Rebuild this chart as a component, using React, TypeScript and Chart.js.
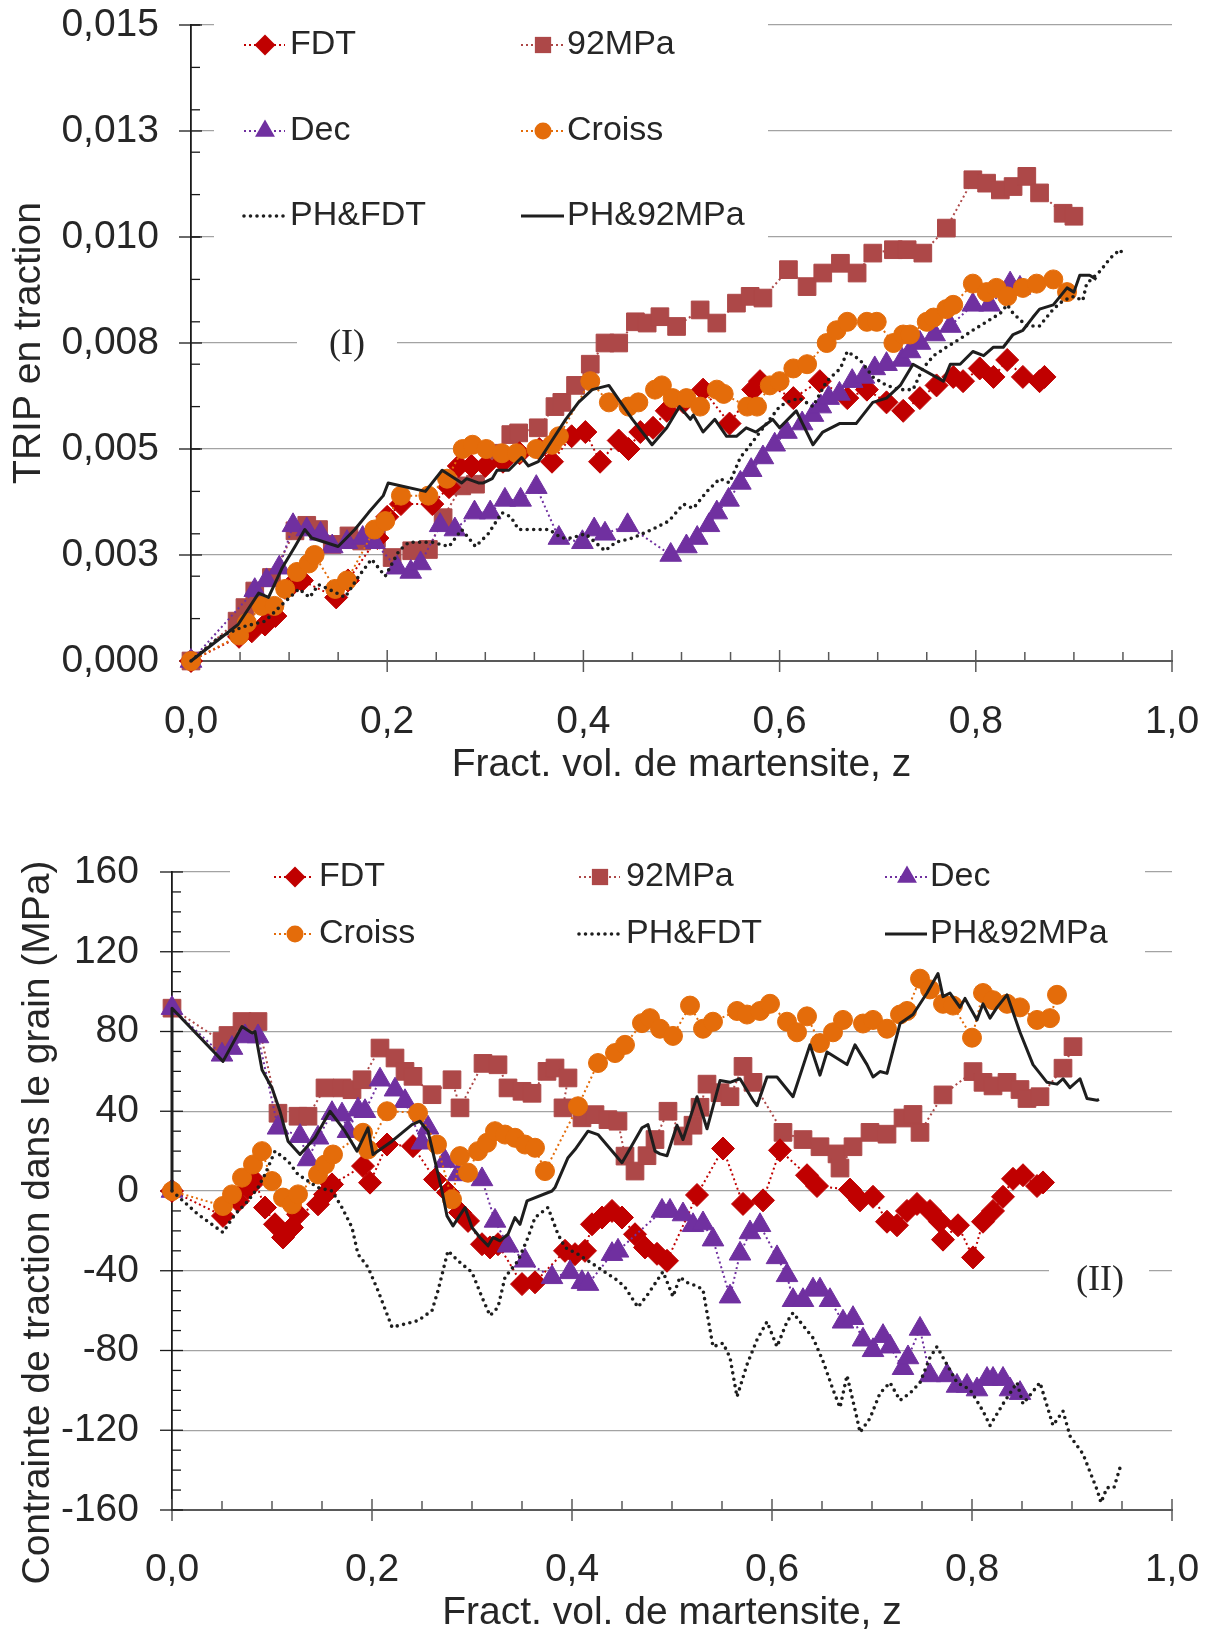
import React, { useEffect, useRef } from 'react';
import { Chart, registerables } from 'chart.js';

Chart.register(...registerables);

type P = [number, number];

// ---------------- data ----------------
const seriesLabels = ['FDT', '92MPa', 'Dec', 'Croiss', 'PH&FDT', 'PH&92MPa'];

// Panel (I): TRIP en traction
const topFDT: P[] = [[0,0],[.049,.00057],[.062,.0007],[.0755,.00086],[.086,.00106],[.103,.0018],[.113,.0019],[.148,.0015],[.16,.0019],[.19,.0029],[.2,.0034],[.214,.0037],[.246,.0037],[.263,.0041],[.273,.0046],[.286,.0046],[.3,.0046],[.318,.0047],[.335,.0049],[.355,.005],[.368,.0047],[.388,.0053],[.402,.0054],[.417,.0047],[.436,.0052],[.446,.005],[.458,.0054],[.471,.0055],[.485,.0059],[.502,.0061],[.522,.0064],[.549,.0056],[.573,.0064],[.58,.0066],[.614,.0062],[.641,.0066],[.669,.0062],[.689,.0064],[.709,.0061],[.726,.0059],[.743,.0062],[.76,.0065],[.777,.0067],[.787,.0066],[.804,.0069],[.818,.0067],[.832,.0071],[.848,.0067],[.865,.0066],[.87,.0067]];
const top92MPa: P[] = [[0,0],[.047,.00094],[.055,.00126],[.065,.00165],[.082,.00197],[.106,.00307],[.118,.0032],[.13,.0031],[.144,.00275],[.161,.00295],[.174,.00283],[.189,.0029],[.205,.00244],[.225,.0026],[.242,.00263],[.257,.00338],[.276,.00413],[.29,.00417],[.31,.0049],[.326,.00534],[.334,.00538],[.354,.0055],[.371,.006],[.378,.0061],[.392,.0065],[.407,.007],[.422,.0075],[.436,.0075],[.453,.008],[.465,.00797],[.478,.00812],[.495,.00789],[.519,.00828],[.536,.00797],[.556,.00844],[.57,.0086],[.583,.00856],[.609,.00923],[.628,.00883],[.644,.00915],[.662,.00938],[.679,.00915],[.695,.00962],[.716,.0097],[.73,.0097],[.746,.00962],[.77,.01021],[.797,.01135],[.811,.01127],[.825,.01111],[.838,.01119],[.852,.01143],[.865,.01104],[.889,.01056],[.9,.01049]];
const topDec: P[] = [[0,0],[.065,.00167],[.077,.0019],[.09,.0022],[.104,.0032],[.118,.0031],[.132,.003],[.144,.0027],[.159,.0028],[.175,.0029],[.187,.0028],[.21,.0022],[.224,.0021],[.234,.0023],[.254,.0032],[.269,.0031],[.289,.0035],[.305,.0035],[.32,.0038],[.336,.0038],[.352,.0041],[.375,.0029],[.399,.0028],[.411,.0031],[.422,.003],[.445,.0032],[.489,.0025],[.505,.0027],[.516,.0029],[.528,.0032],[.536,.0035],[.548,.0038],[.56,.0042],[.571,.0045],[.583,.0048],[.595,.0051],[.607,.0054],[.623,.0056],[.634,.0058],[.642,.006],[.65,.0062],[.661,.0063],[.674,.0066],[.686,.0067],[.697,.0069],[.709,.007],[.725,.0071],[.733,.0073],[.743,.0075],[.758,.0077],[.774,.0079],[.797,.0084],[.814,.0084],[.835,.0089],[.845,.0088]];
const topCroiss: P[] = [[0,0],[.049,.0006],[.057,.0009],[.072,.0013],[.085,.0013],[.096,.0017],[.108,.0021],[.12,.0023],[.126,.0025],[.147,.0017],[.159,.0019],[.187,.0031],[.198,.0033],[.214,.0039],[.242,.0039],[.261,.0043],[.277,.005],[.287,.0051],[.301,.005],[.317,.0049],[.332,.0049],[.352,.005],[.368,.0051],[.375,.0053],[.407,.0066],[.426,.0061],[.446,.006],[.456,.0061],[.473,.0064],[.48,.0065],[.491,.0062],[.505,.0062],[.519,.006],[.536,.0064],[.543,.0063],[.567,.006],[.577,.006],[.59,.0065],[.6,.0066],[.614,.0069],[.628,.007],[.648,.0075],[.658,.0078],[.669,.008],[.689,.008],[.699,.008],[.716,.0075],[.726,.0077],[.733,.0077],[.75,.008],[.757,.0081],[.77,.0083],[.777,.0084],[.797,.0089],[.811,.0087],[.821,.0088],[.832,.0086],[.848,.0088],[.862,.0089],[.879,.009],[.893,.0087]];
const topPHFDT: P[] = [[0,0],[.028,.00055],[.052,.0008],[.0755,.00094],[.096,.0014],[.11,.0017],[.121,.0015],[.13,.0018],[.14,.0017],[.157,.0015],[.171,.002],[.184,.0024],[.198,.002],[.212,.0026],[.222,.0028],[.232,.0028],[.246,.0028],[.263,.0027],[.276,.0031],[.29,.0027],[.303,.003],[.317,.0035],[.326,.0034],[.334,.0031],[.351,.0031],[.365,.0031],[.378,.0029],[.388,.0029],[.402,.003],[.422,.0026],[.433,.0028],[.45,.0029],[.47,.0031],[.487,.0033],[.502,.0037],[.512,.0036],[.526,.004],[.539,.0043],[.549,.0042],[.56,.0048],[.567,.005],[.58,.0054],[.6,.006],[.607,.0061],[.62,.0062],[.634,.006],[.648,.0066],[.662,.0069],[.669,.0073],[.682,.0071],[.695,.0067],[.709,.0065],[.723,.0064],[.736,.0064],[.746,.0069],[.757,.0072],[.77,.0074],[.784,.0076],[.797,.0078],[.811,.008],[.825,.0082],[.832,.0084],[.838,.0082],[.852,.0079],[.865,.0079],[.879,.0083],[.889,.0085],[.9,.0086],[.909,.0085],[.913,.0089],[.927,.0092],[.937,.0095],[.947,.0097],[.95,.0096]];
const topPH92MPa: P[] = [[0,0],[.048,.00086],[.069,.0016],[.079,.0015],[.093,.0022],[.106,.0027],[.116,.0031],[.123,.0029],[.15,.0027],[.167,.0031],[.181,.0035],[.196,.0039],[.201,.0042],[.239,.004],[.256,.0045],[.276,.0042],[.281,.0043],[.293,.0042],[.298,.0042],[.307,.0043],[.312,.0045],[.324,.0045],[.337,.0048],[.344,.0046],[.354,.0047],[.368,.0052],[.382,.0057],[.395,.0061],[.409,.0064],[.426,.0065],[.45,.0057],[.47,.0051],[.485,.0055],[.498,.006],[.509,.0057],[.512,.0058],[.522,.0054],[.534,.0057],[.546,.0053],[.556,.0053],[.566,.0055],[.576,.0054],[.593,.0057],[.6,.0055],[.617,.0059],[.634,.0051],[.644,.0054],[.661,.0056],[.678,.0056],[.695,.0061],[.709,.0062],[.723,.0065],[.736,.007],[.767,.0066],[.774,.007],[.784,.007],[.797,.0073],[.808,.0072],[.818,.0074],[.828,.0074],[.838,.0077],[.848,.0078],[.858,.0081],[.865,.0083],[.879,.0084],[.886,.0086],[.893,.0088],[.9,.0087],[.906,.0091],[.916,.0091],[.923,.009]];

// Panel (II): Contrainte de traction dans le grain (MPa)
const botFDT: P[] = [[0,0],[.051,-12.5],[.066,-5],[.076,1.7],[.083,5],[.093,-8.3],[.103,-16.7],[.111,-23.3],[.12,-18.3],[.126,-11.7],[.146,-6.7],[.153,-1.7],[.16,3.3],[.191,12.5],[.198,4.2],[.215,23.3],[.241,22.5],[.263,5.8],[.276,-0.8],[.288,-10.8],[.296,-15],[.31,-26.7],[.318,-28.3],[.326,-26.7],[.35,-46.7],[.363,-45.8],[.393,-30],[.403,-31.7],[.413,-30],[.42,-16.7],[.43,-13.3],[.44,-10],[.45,-13.3],[.463,-21.7],[.473,-28.3],[.485,-31.5],[.495,-35],[.525,-2],[.551,21.3],[.571,-6.5],[.591,-4.7],[.608,20.4],[.635,7.9],[.645,2.5],[.678,0.7],[.688,-4.7],[.701,-2.9],[.715,-15.4],[.725,-17.2],[.735,-10],[.745,-6.5],[.758,-10],[.768,-15.4],[.771,-24.4],[.786,-17.2],[.801,-33.3],[.811,-15.4],[.821,-10],[.831,-2.9],[.841,6.1],[.851,7.9],[.865,2.5],[.871,4.3]];
const bot92MPa: P[] = [[0,91.7],[.05,75],[.056,78],[.07,85],[.086,85],[.106,39],[.126,37.5],[.136,37.5],[.153,51.7],[.17,51.7],[.18,50.8],[.19,55.8],[.208,71.7],[.223,66.7],[.233,60],[.241,57.5],[.26,48.3],[.28,55.8],[.288,41.7],[.311,64],[.326,63.3],[.336,51.7],[.35,50],[.36,49],[.375,60],[.383,61.7],[.396,56.7],[.391,41.7],[.41,36.7],[.423,38.3],[.436,35.8],[.446,35],[.453,17.5],[.463,10],[.475,17.7],[.483,25.8],[.496,40],[.511,27.6],[.521,33],[.528,42],[.535,53.6],[.548,49.3],[.558,47.3],[.571,62.5],[.581,54.5],[.611,29.4],[.631,25.8],[.648,22.2],[.665,18.6],[.668,11.5],[.681,22.2],[.698,29.4],[.715,28.5],[.731,36.6],[.741,38.4],[.748,29.4],[.771,48.2],[.801,59.9],[.811,54.5],[.821,52.7],[.835,54.5],[.848,50.9],[.855,46.4],[.868,47.3],[.891,61.6],[.901,72.4]];
const botDec: P[] = [[0,0],[0,91.7],[.05,68.3],[.06,71.7],[.073,77.5],[.086,77.5],[.106,31.7],[.128,27.5],[.136,15.8],[.146,26.7],[.16,39],[.17,38.3],[.176,30],[.186,40.8],[.193,40],[.208,55.8],[.223,50.8],[.233,45],[.25,24.2],[.256,31.7],[.273,15],[.286,8.3],[.31,5.8],[.323,-15],[.336,-27.5],[.353,-35],[.38,-43.3],[.398,-40.8],[.41,-45.8],[.416,-46.7],[.44,-31.7],[.446,-30],[.49,-10],[.498,-10],[.511,-11.8],[.521,-17.2],[.531,-16.3],[.541,-24.4],[.558,-53],[.568,-31.5],[.578,-20.8],[.588,-17.2],[.605,-33.3],[.615,-42.3],[.621,-54.8],[.631,-54.8],[.641,-49.5],[.648,-49.5],[.658,-54.8],[.671,-65.6],[.681,-63.8],[.691,-74.6],[.701,-79.9],[.711,-72.8],[.718,-78.1],[.731,-88.9],[.736,-83.5],[.748,-69.2],[.758,-92.5],[.775,-92.5],[.785,-97.8],[.795,-97.8],[.805,-99.6],[.815,-94.3],[.821,-94.3],[.831,-94.3],[.838,-99.6],[.848,-101.4]];
const botCroiss: P[] = [[0,0],[.051,-7.5],[.06,-1.7],[.07,6.7],[.081,13.3],[.09,20],[.1,5],[.111,-3.3],[.12,-6.7],[.126,-1.7],[.146,8.3],[.153,13.3],[.161,18.3],[.191,29.2],[.196,20.8],[.215,40],[.246,39.2],[.265,23.3],[.28,-4.2],[.288,17.5],[.296,9.2],[.306,20],[.315,24.2],[.323,30],[.333,28.3],[.343,26.7],[.353,23.3],[.363,21.7],[.373,10],[.406,42.5],[.426,64.2],[.443,69.2],[.453,73.3],[.47,84.2],[.478,86.7],[.488,81.4],[.501,77.8],[.518,93],[.531,81.4],[.541,84.9],[.565,90.3],[.575,88.5],[.588,90.3],[.598,93.9],[.615,84.9],[.625,79.6],[.635,87.6],[.648,74.2],[.661,79.6],[.671,85.8],[.691,84],[.701,85.8],[.715,81.4],[.728,88.5],[.735,90.3],[.748,106.5],[.758,101.1],[.771,93.9],[.781,93],[.8,76.9],[.811,99.3],[.821,95.7],[.835,93.9],[.848,92.1],[.865,85.8],[.878,86.7],[.885,98.4]];
const botPHFDT: P[] = [[0,0],[.026,-11.7],[.051,-20.8],[.063,-11.7],[.076,-5],[.086,1.7],[.093,8.3],[.103,20],[.116,15],[.126,8.3],[.136,5],[.146,1.7],[.16,0],[.17,-8.3],[.18,-18.3],[.186,-31.7],[.196,-38.3],[.206,-50],[.22,-68.3],[.233,-66.7],[.246,-65],[.26,-60],[.266,-50],[.276,-30],[.286,-35],[.3,-40.8],[.31,-53.3],[.318,-62.5],[.326,-58.3],[.333,-43.3],[.346,-35],[.356,-23.3],[.363,-13.3],[.376,-8.3],[.386,-21.7],[.393,-28.3],[.406,-31.7],[.416,-35],[.426,-38.3],[.436,-41.7],[.446,-45],[.453,-48.3],[.466,-58.3],[.476,-51.7],[.491,-40.5],[.501,-53],[.508,-43.2],[.515,-45.9],[.525,-47.7],[.531,-49.5],[.541,-78.1],[.551,-76.3],[.558,-83.5],[.565,-103.2],[.575,-87.1],[.585,-74.6],[.595,-65.6],[.605,-78.1],[.615,-65.6],[.621,-61.1],[.631,-67.4],[.641,-73.7],[.651,-85.3],[.661,-99.6],[.668,-108.6],[.675,-92.5],[.685,-114],[.688,-121.1],[.698,-114],[.708,-101.4],[.718,-96.1],[.728,-105],[.738,-101.4],[.748,-96.1],[.758,-83.5],[.765,-78.1],[.775,-87.1],[.785,-96.1],[.798,-99.6],[.811,-110.4],[.818,-117.6],[.831,-106.8],[.845,-96.1],[.851,-106.8],[.868,-96.1],[.881,-117.6],[.891,-110.4],[.898,-122.9],[.911,-131.9],[.925,-149.8],[.929,-156.3],[.935,-148.8],[.942,-148.8],[.948,-138.8],[.95,-137]];
const botPH92MPa: P[] = [[0,0],[0,91.7],[.051,65],[.07,82.5],[.08,79.2],[.083,80],[.09,60.8],[.1,51.7],[.108,40],[.116,25],[.128,18.3],[.143,26.7],[.158,40],[.173,30],[.185,20],[.196,31.7],[.201,18.3],[.22,25],[.24,33.3],[.248,35],[.253,31.7],[.256,30],[.263,15],[.27,0],[.275,-12.5],[.281,-17.5],[.293,-8.3],[.3,-18.3],[.308,-23.3],[.316,-27.5],[.321,-23.3],[.328,-25],[.336,-21.7],[.343,-13.3],[.348,-16.7],[.355,-5],[.38,0],[.383,1.7],[.396,16.7],[.403,20.8],[.416,30],[.426,28.3],[.45,14.2],[.47,31.7],[.476,33.3],[.483,20],[.488,18.6],[.495,17.7],[.505,33],[.511,25.8],[.525,47.3],[.535,31.2],[.548,55.4],[.558,54.5],[.568,56.3],[.581,45.5],[.585,42.8],[.595,57.2],[.605,57.2],[.621,47.3],[.638,73.3],[.648,58.1],[.655,69.7],[.675,63.4],[.683,73.3],[.695,63.4],[.701,57.2],[.708,59.9],[.715,59],[.728,84],[.741,88.5],[.755,99.3],[.766,109.1],[.771,97.5],[.778,99.3],[.788,92.1],[.793,96.6],[.805,85.8],[.811,93.9],[.818,86.7],[.825,92.1],[.835,98.4],[.848,79.6],[.861,63.4],[.875,54.5],[.885,53.6],[.891,56.3],[.898,51.8],[.908,56.3],[.915,46.4],[.925,45.5],[.927,46]];

const xTickValues = [0, 0.2, 0.4, 0.6, 0.8, 1.0];
const xTickLabels = ['0,0', '0,2', '0,4', '0,6', '0,8', '1,0'];
const topYTickValues = [0, 0.0025, 0.005, 0.0075, 0.01, 0.0125, 0.015];
const topYTickLabels = ['0,000', '0,003', '0,005', '0,008', '0,010', '0,013', '0,015'];
const botYTickValues = [-160, -120, -80, -40, 0, 40, 80, 120, 160];
const botYTickLabels = ['-160', '-120', '-80', '-40', '0', '40', '80', '120', '160'];
const xTitle = 'Fract. vol. de martensite, z';
const topYTitle = 'TRIP en traction';
const botYTitle = 'Contrainte de traction dans le grain (MPa)';
const topNote = '(I)';
const botNote = '(II)';

// ---------------- styles ----------------
const SANS = "'Liberation Sans', Arial, sans-serif";
const SERIF = "'Liberation Serif', 'Times New Roman', serif";
const TEXT = '#262626';
const STYLES = [
  { color: '#c00000', point: 'rectRot', radius: 11.5, line: 'dot', order: 4 },
  { color: '#ad4848', point: 'rect', radius: 12.5, line: 'dot', order: 5 },
  { color: '#7030a0', point: 'triangle', radius: 12.5, line: 'dot', order: 3 },
  { color: '#e46c0a', point: 'circle', radius: 9.5, line: 'dot', order: 2 },
  { color: '#1e1e1e', point: 'circle', radius: 0, line: 'round', order: 1 },
  { color: '#1e1e1e', point: 'circle', radius: 0, line: 'solid', order: 0 },
];

function makeDatasets(series: P[][]) {
  return series.map((pts, i) => {
    const s = STYLES[i];
    return {
      label: seriesLabels[i],
      data: pts.map(([x, y]) => ({ x, y })),
      showLine: true,
      borderColor: s.color,
      backgroundColor: s.color,
      borderWidth: s.line === 'solid' ? 3 : s.line === 'round' ? 3.6 : 2,
      borderDash: s.line === 'solid' ? [] : s.line === 'round' ? [0, 6.5] : [2, 3],
      borderCapStyle: s.line === 'round' ? 'round' : 'butt',
      borderJoinStyle: 'round',
      pointStyle: s.point,
      pointRadius: s.radius,
      pointHoverRadius: s.radius,
      pointBackgroundColor: s.color,
      pointBorderColor: s.color,
      pointBorderWidth: 1,
      tension: 0,
      clip: false,
      order: s.order,
    };
  });
}

function drawMarker(ctx: CanvasRenderingContext2D, style: string, x: number, y: number, r: number, color: string) {
  ctx.save();
  ctx.fillStyle = color;
  ctx.beginPath();
  if (style === 'rectRot') {
    ctx.moveTo(x - r, y); ctx.lineTo(x, y - r); ctx.lineTo(x + r, y); ctx.lineTo(x, y + r); ctx.closePath();
  } else if (style === 'rect') {
    const h = r * Math.SQRT1_2;
    ctx.rect(x - h, y - h, 2 * h, 2 * h);
  } else if (style === 'triangle') {
    ctx.moveTo(x, y - r); ctx.lineTo(x + 0.866 * r, y + 0.5 * r); ctx.lineTo(x - 0.866 * r, y + 0.5 * r); ctx.closePath();
  } else {
    ctx.arc(x, y, r, 0, Math.PI * 2);
  }
  ctx.fill();
  ctx.restore();
}

type LegendItem = { ds: number; x0: number; x1: number; mx: number; tx: number; y: number };
type DecorCfg = {
  items: LegendItem[];
  boxes: number[][];
  note: { text: string; x: number; y: number };
  title: { text: string; x: number; y: number };
  xMajor: number[]; xMinor: number[]; yMajor: number[]; yMinor: number[];
};

function makeDecor(cfg: DecorCfg) {
  return {
    id: 'decor',
    beforeDatasetsDraw(chart: any) {
      const ctx: CanvasRenderingContext2D = chart.ctx;
      const { left, bottom } = chart.chartArea;
      const xs = chart.scales.x;
      const ys = chart.scales.y;
      ctx.save();
      ctx.fillStyle = '#ffffff';
      cfg.boxes.forEach((b) => ctx.fillRect(b[0], b[1], b[2], b[3]));
      const seg = (x0: number, y0: number, x1: number, y1: number) => {
        ctx.beginPath(); ctx.moveTo(x0, y0); ctx.lineTo(x1, y1); ctx.stroke();
      };
      ctx.strokeStyle = '#595959';
      ctx.lineWidth = 1.5;
      cfg.xMinor.forEach((v) => { const p = xs.getPixelForValue(v); seg(p, bottom - 9, p, bottom); });
      cfg.xMajor.forEach((v) => { const p = xs.getPixelForValue(v); seg(p, bottom - 11, p, bottom + 11); });
      ctx.strokeStyle = '#1a1a1a';
      ctx.lineWidth = 1.3;
      cfg.yMinor.forEach((v) => { const p = ys.getPixelForValue(v); seg(left, p, left + 9, p); });
      cfg.yMajor.forEach((v) => { const p = ys.getPixelForValue(v); seg(left - 12, p, left + 11, p); });
      cfg.items.forEach((it) => {
        const ds = chart.data.datasets[it.ds];
        ctx.save();
        ctx.strokeStyle = ds.borderColor;
        ctx.lineWidth = ds.borderWidth;
        ctx.setLineDash(ds.borderDash);
        ctx.lineCap = ds.borderCapStyle;
        ctx.beginPath(); ctx.moveTo(it.x0, it.y); ctx.lineTo(it.x1, it.y); ctx.stroke();
        ctx.restore();
        if (ds.pointRadius > 0) drawMarker(ctx, ds.pointStyle, it.mx, it.y, ds.pointRadius - 1, ds.pointBackgroundColor);
        ctx.fillStyle = TEXT;
        ctx.font = `34px ${SANS}`;
        ctx.textAlign = 'left';
        ctx.textBaseline = 'middle';
        ctx.fillText(ds.label, it.tx, it.y);
      });
      ctx.fillStyle = TEXT;
      ctx.font = `36px ${SERIF}`;
      ctx.textAlign = 'center';
      ctx.textBaseline = 'alphabetic';
      ctx.fillText(cfg.note.text, cfg.note.x, cfg.note.y);
      ctx.translate(cfg.title.x, cfg.title.y);
      ctx.rotate(-Math.PI / 2);
      ctx.font = `39px ${SANS}`;
      ctx.textAlign = 'center';
      ctx.textBaseline = 'middle';
      ctx.fillText(cfg.title.text, 0, 0);
      ctx.restore();
    },
  };
}

function range(a: number, b: number, step: number, skip: number[]) {
  const out: number[] = [];
  for (let i = 0; a + i * step <= b + step * 1e-6; i++) {
    const v = +(a + i * step).toFixed(6);
    if (!skip.some((s) => Math.abs(s - v) < step * 1e-3)) out.push(v);
  }
  return out;
}

function zeroPad(s: any) {
  s.paddingTop = 0; s.paddingBottom = 0; s.paddingLeft = 0; s.paddingRight = 0;
}

function makeConfig(opts: {
  series: P[][]; yMin: number; yMax: number; yTicks: number[]; yLabels: string[];
  padTop: number; xHeight: number; yWidth: number; xLabelPad: number; xTitlePadBottom: number; yLabelPad: number;
  decor: DecorCfg;
}) {
  const tickFont = { family: SANS, size: 39 };
  return {
    type: 'scatter',
    data: { datasets: makeDatasets(opts.series) },
    options: {
      responsive: false,
      maintainAspectRatio: false,
      devicePixelRatio: 1,
      animation: false,
      events: [],
      layout: { padding: { top: opts.padTop, right: 38, bottom: 0, left: 0 } },
      plugins: { legend: { display: false }, tooltip: { enabled: false } },
      scales: {
        x: {
          type: 'linear', min: 0, max: 1,
          afterBuildTicks: (s: any) => { s.ticks = xTickValues.map((v) => ({ value: v })); },
          afterFit: (s: any) => { s.height = opts.xHeight; zeroPad(s); },
          ticks: { callback: (_v: any, i: number) => xTickLabels[i], font: tickFont, color: TEXT, padding: opts.xLabelPad, autoSkip: false, maxRotation: 0 },
          grid: { display: false, drawTicks: false },
          border: { display: true, color: '#595959', width: 2 },
          title: { display: true, text: xTitle, font: tickFont, color: TEXT, padding: { top: 0, bottom: opts.xTitlePadBottom } },
        },
        y: {
          type: 'linear', min: opts.yMin, max: opts.yMax,
          afterBuildTicks: (s: any) => { s.ticks = opts.yTicks.map((v) => ({ value: v })); },
          afterFit: (s: any) => { s.width = opts.yWidth; zeroPad(s); },
          ticks: { callback: (_v: any, i: number) => opts.yLabels[i], font: tickFont, color: TEXT, padding: opts.yLabelPad, autoSkip: false },
          grid: {
            color: (c: any) => (c.tick && c.tick.value === opts.yMin ? 'rgba(0,0,0,0)' : '#a3a3a3'),
            lineWidth: 1.3,
            drawTicks: false,
          },
          border: { display: true, color: '#1a1a1a', width: 1.8 },
        },
      },
    },
    plugins: [makeDecor(opts.decor)],
  };
}

export default function App() {
  const topRef = useRef<HTMLCanvasElement>(null);
  const botRef = useRef<HTMLCanvasElement>(null);

  useEffect(() => {
    const topCfg: any = makeConfig({
      series: [topFDT, top92MPa, topDec, topCroiss, topPHFDT, topPH92MPa],
      yMin: 0, yMax: 0.015, yTicks: topYTickValues, yLabels: topYTickLabels,
      padTop: 25, xHeight: 139, yWidth: 191, xLabelPad: 38, xTitlePadBottom: 11, yLabelPad: 32,
      decor: {
        items: [
          { ds: 0, x0: 244, x1: 285, mx: 265, tx: 290, y: 45 },
          { ds: 1, x0: 521, x1: 564, mx: 543, tx: 567, y: 45 },
          { ds: 2, x0: 244, x1: 285, mx: 265, tx: 290, y: 131 },
          { ds: 3, x0: 521, x1: 564, mx: 543, tx: 567, y: 131 },
          { ds: 4, x0: 244, x1: 285, mx: 265, tx: 290, y: 216 },
          { ds: 5, x0: 521, x1: 564, mx: 543, tx: 567, y: 216 },
        ],
        boxes: [[214, 5, 554, 245], [297, 329, 100, 30]],
        note: { text: topNote, x: 347, y: 354 },
        title: { text: topYTitle, x: 29, y: 343 },
        xMajor: xTickValues,
        xMinor: range(0, 1, 0.05, xTickValues),
        yMajor: topYTickValues,
        yMinor: range(0, 0.015, 0.001, []),
      },
    });
    const botCfg: any = makeConfig({
      series: [botFDT, bot92MPa, botDec, botCroiss, botPHFDT, botPH92MPa],
      yMin: -160, yMax: 160, yTicks: botYTickValues, yLabels: botYTickLabels,
      padTop: 72, xHeight: 130, yWidth: 172, xLabelPad: 37, xTitlePadBottom: 3, yLabelPad: 33,
      decor: {
        items: [
          { ds: 0, x0: 274, x1: 314, mx: 295, tx: 319, y: 77 },
          { ds: 1, x0: 579, x1: 620, mx: 600, tx: 626, y: 77 },
          { ds: 2, x0: 885, x1: 927, mx: 907, tx: 930, y: 77 },
          { ds: 3, x0: 274, x1: 314, mx: 295, tx: 319, y: 134 },
          { ds: 4, x0: 579, x1: 620, mx: 600, tx: 626, y: 134 },
          { ds: 5, x0: 885, x1: 927, mx: 907, tx: 930, y: 134 },
        ],
        boxes: [[230, 60, 915, 130], [1049, 458, 100, 30]],
        note: { text: botNote, x: 1100, y: 490 },
        title: { text: botYTitle, x: 38.5, y: 422.5 },
        xMajor: xTickValues,
        xMinor: range(0, 1, 0.05, xTickValues),
        yMajor: botYTickValues,
        yMinor: range(-160, 160, 10, botYTickValues),
      },
    });
    const c1 = new Chart(topRef.current as HTMLCanvasElement, topCfg);
    const c2 = new Chart(botRef.current as HTMLCanvasElement, botCfg);
    return () => { c1.destroy(); c2.destroy(); };
  }, []);

  return (
    <div style={{ position: 'absolute', left: 0, top: 0, width: 1210, height: 1629, overflow: 'hidden', background: '#ffffff' }}>
      <div style={{ position: 'absolute', left: 0, top: 0, width: 1210, height: 800 }}>
        <canvas ref={topRef} width={1210} height={800} style={{ display: 'block', width: 1210, height: 800 }} />
      </div>
      <div style={{ position: 'absolute', left: 0, top: 800, width: 1210, height: 840 }}>
        <canvas ref={botRef} width={1210} height={840} style={{ display: 'block', width: 1210, height: 840 }} />
      </div>
    </div>
  );
}
